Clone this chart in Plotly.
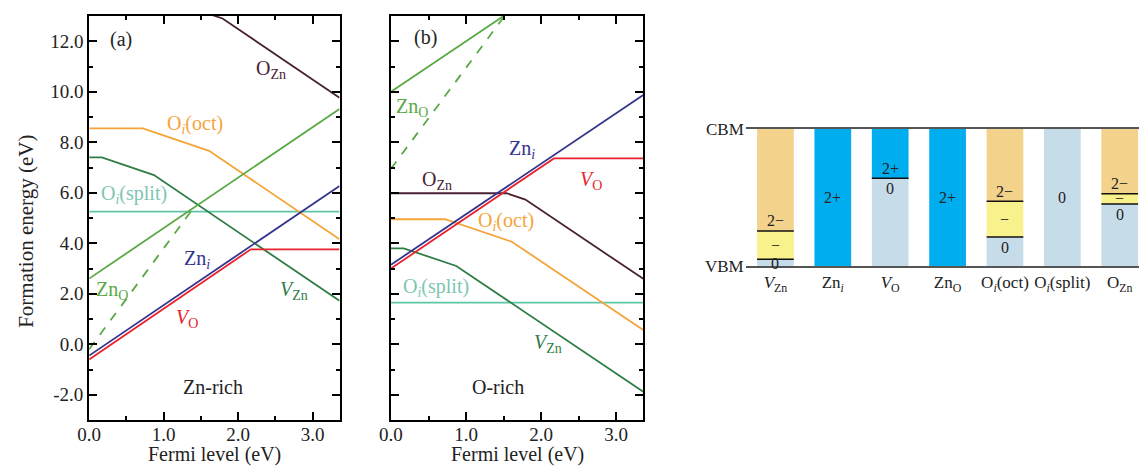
import plotly.graph_objects as go

FONT = "Liberation Serif"
W, H = 1139, 467

# ---------------- formation-energy data (Fermi level, eV -> energy, eV) ----------------
E_GAP = 3.36

# Zn-rich
vzn_a_x, vzn_a_e = [0, 0.17, 0.87, 3.36], [7.40, 7.40, 6.70, 1.72]
oioct_a_x, oioct_a_e = [0, 0.72, 1.61, 3.36], [8.55, 8.55, 7.66, 4.16]
ozn_a_x, ozn_a_e = [0, 1.54, 1.79, 3.36], [13.15, 13.15, 12.90, 9.76]
oisplit_a_x, oisplit_a_e = [0, 3.36], [5.25, 5.25]
zno_a_x, zno_a_e = [0, 3.36], [2.60, 9.32]
zno4_a_x, zno4_a_e = [0, 1.40], [-0.20, 5.40]
zni_a_x, zni_a_e = [0, 3.36], [-0.45, 6.27]
vo_a_x, vo_a_e = [0, 2.17, 3.36], [-0.60, 3.76, 3.76]

# O-rich
vzn_b_x, vzn_b_e = [0, 0.17, 0.87, 3.36], [3.80, 3.80, 3.10, -1.88]
oioct_b_x, oioct_b_e = [0, 0.72, 1.61, 3.36], [4.95, 4.95, 4.06, 0.56]
ozn_b_x, ozn_b_e = [0, 1.54, 1.79, 3.36], [5.98, 5.98, 5.73, 2.59]
oisplit_b_x, oisplit_b_e = [0, 3.36], [1.65, 1.65]
zno_b_x, zno_b_e = [0, 3.36], [10.00, 16.72]
zno4_b_x, zno4_b_e = [0, 1.53], [6.95, 13.07]
zni_b_x, zni_b_e = [0, 3.36], [3.15, 9.87]
vo_b_x, vo_b_e = [0, 2.17, 3.36], [3.00, 7.36, 7.36]

y_tickvals = [-2, 0, 2, 4, 6, 8, 10, 12]
y_ticktext = ["-2.0", "0.0", "2.0", "4.0", "6.0", "8.0", "10.0", "12.0"]
x_tickvals = [0, 1, 2, 3]
x_ticktext = ["0.0", "1.0", "2.0", "3.0"]

# ---------------- transition-level diagram ----------------
GAP = 3.4
defect_keys = ["vzn", "zni", "vo", "zno", "oioct", "oisplit", "ozn"]
defect_labels = ["<i>V</i><sub>Zn</sub>", "Zn<sub><i>i</i></sub>", "<i>V</i><sub>O</sub>",
                 "Zn<sub>O</sub>", "O<sub><i>i</i></sub>(oct)", "O<sub><i>i</i></sub>(split)",
                 "O<sub>Zn</sub>"]
vzn_levels, vzn_charges = [0.17, 0.87], ["0", "\u2212", "2\u2212"]
zni_levels, zni_charges = [], ["2+"]
vo_levels, vo_charges = [2.18], ["0", "2+"]
zno_levels, zno_charges = [], ["2+"]
oioct_levels, oioct_charges = [0.72, 1.61], ["0", "\u2212", "2\u2212"]
oisplit_levels, oisplit_charges = [], ["0"]
ozn_levels, ozn_charges = [1.54, 1.79], ["0", "\u2212", "2\u2212"]

charge_colors = {"2\u2212": "#f3d28c", "\u2212": "#f8f18c", "0": "#c6dde9", "2+": "#00aeef"}

COL = {
    "ozn": "#4a2236", "oioct": "#f5a43a", "oisplit": "#5ec6a6", "zno": "#5aa845",
    "vzn": "#2f7d45", "zni": "#34348e", "vo": "#e8232d",
}

fig = go.Figure()


def add_line(x, e, color, axis, dash="solid"):
    fig.add_trace(go.Scatter(
        x=x, y=e, mode="lines", line=dict(color=color, width=1.8, dash=dash),
        xaxis="x" if axis == 1 else "x2", yaxis="y" if axis == 1 else "y2",
        showlegend=False, hoverinfo="skip"))


for axis, sets in [
    (1, [(oisplit_a_x, oisplit_a_e, "oisplit", "solid"), (ozn_a_x, ozn_a_e, "ozn", "solid"),
         (oioct_a_x, oioct_a_e, "oioct", "solid"), (vzn_a_x, vzn_a_e, "vzn", "solid"),
         (zno_a_x, zno_a_e, "zno", "solid"), (zno4_a_x, zno4_a_e, "zno", "dash"),
         (vo_a_x, vo_a_e, "vo", "solid"), (zni_a_x, zni_a_e, "zni", "solid")]),
    (2, [(oisplit_b_x, oisplit_b_e, "oisplit", "solid"), (ozn_b_x, ozn_b_e, "ozn", "solid"),
         (oioct_b_x, oioct_b_e, "oioct", "solid"), (vzn_b_x, vzn_b_e, "vzn", "solid"),
         (zno_b_x, zno_b_e, "zno", "solid"), (zno4_b_x, zno4_b_e, "zno", "dash"),
         (vo_b_x, vo_b_e, "vo", "solid"), (zni_b_x, zni_b_e, "zni", "solid")]),
]:
    for x, e, key, dash in sets:
        add_line(x, e, COL[key], axis, dash)

# ---- level diagram bars ----
levels_all = [vzn_levels, zni_levels, vo_levels, zno_levels, oioct_levels, oisplit_levels, ozn_levels]
charges_all = [vzn_charges, zni_charges, vo_charges, zno_charges, oioct_charges, oisplit_charges, ozn_charges]
BAR_W = 0.64
shapes = []
annotations = []
for i, (key, levels, charges) in enumerate(zip(defect_keys, levels_all, charges_all)):
    bounds = [0.0] + levels + [GAP]
    n = len(charges)
    for j, q in enumerate(charges):
        lo, hi = bounds[j], bounds[j + 1]
        fig.add_trace(go.Bar(
            x=[key], y=[hi - lo], base=[lo], width=BAR_W,
            marker=dict(color=charge_colors[q], line=dict(width=0)),
            xaxis="x3", yaxis="y3", showlegend=False, hoverinfo="skip"))
        # label placement inside the segment
        if n == 1:
            ypos = (lo + hi) / 2
        elif j == n - 1:
            ypos = lo + 0.25
        elif j == 0:
            ypos = max(hi - 0.25, 0.07)
        else:
            ypos = (lo + hi) / 2
        annotations.append(dict(
            x=i, y=ypos, xref="x3", yref="y3", text=q, showarrow=False,
            font=dict(family=FONT, size=16, color="#222"), xanchor="center", yanchor="middle"))
    for lv in levels:
        shapes.append(dict(type="line", xref="x3", yref="y3", x0=i - BAR_W / 2, x1=i + BAR_W / 2,
                           y0=lv, y1=lv, line=dict(color="#111", width=1.5)))

annotations += [
    dict(x=742 / W, y=GAP, xref="paper", yref="y3", text="CBM", showarrow=False,
         xanchor="right", yanchor="middle", font=dict(family=FONT, size=17, color="#222")),
    dict(x=742 / W, y=0, xref="paper", yref="y3", text="VBM", showarrow=False,
         xanchor="right", yanchor="middle", font=dict(family=FONT, size=17, color="#222")),
]


# ---- curve labels ----
def px_a(px, py):
    return (px - 78) / 75.3, 12 - (py - 42) / 25.25


def px_b(px, py):
    return (px - 383) / 75.3, 12 - (py - 42) / 25.25


def lab(axis, px, py, text, color, size=20):
    if axis == 1:
        x, y = px_a(px, py)
        xr, yr = "x", "y"
    else:
        x, y = px_b(px, py)
        xr, yr = "x2", "y2"
    annotations.append(dict(x=x, y=y, xref=xr, yref=yr, text=text, showarrow=False,
                            xanchor="center", yanchor="middle",
                            font=dict(family=FONT, size=size, color=color)))


lab(1, 110, 40, "(a)", "#222")
lab(1, 262, 70, "O<sub>Zn</sub>", COL["ozn"])
lab(1, 185, 125, "O<sub><i>i</i></sub>(oct)", COL["oioct"])
lab(1, 123, 195, "O<sub><i>i</i></sub>(split)", "#7cc6b2")
lab(1, 187, 260, "Zn<sub><i>i</i></sub>", COL["zni"])
lab(1, 101, 291, "Zn<sub>O</sub>", COL["zno"])
lab(1, 177, 319, "<i>V</i><sub>O</sub>", COL["vo"])
lab(1, 285, 291, "<i>V</i><sub>Zn</sub>", COL["vzn"])
lab(1, 203, 388, "Zn-rich", "#222")

lab(2, 418, 38, "(b)", "#222")
lab(2, 404, 108, "Zn<sub>O</sub>", COL["zno"])
lab(2, 514, 150, "Zn<sub><i>i</i></sub>", COL["zni"])
lab(2, 584, 181, "<i>V</i><sub>O</sub>", COL["vo"])
lab(2, 429, 181, "O<sub>Zn</sub>", COL["ozn"])
lab(2, 498, 222, "O<sub><i>i</i></sub>(oct)", COL["oioct"])
lab(2, 428, 288, "O<sub><i>i</i></sub>(split)", "#7cc6b2")
lab(2, 540, 344, "<i>V</i><sub>Zn</sub>", COL["vzn"])
lab(2, 490, 388, "O-rich", "#222")

# axis titles placed as text below / beside the panels
for cx in [(78 + 331) / 2, (383 + 638) / 2]:
    annotations.append(dict(x=cx / W, y=0, xref="paper", yref="paper",
                            text="Fermi level (eV)", showarrow=False, xanchor="center",
                            yanchor="bottom", borderpad=0,
                            font=dict(family=FONT, size=20, color="#222")))
annotations.append(dict(x=14 / W, y=1 - 231 / H, xref="paper", yref="paper", textangle=-90,
                        text="Formation energy (eV)", showarrow=False, xanchor="center",
                        yanchor="middle", font=dict(family=FONT, size=21, color="#222")))

# ---------------- axes ----------------
ydom = [1 - 420 / H, 1 - 16 / H]
tickfont = dict(family=FONT, size=19, color="#222")
common_x = dict(range=[0, E_GAP], showline=True, linecolor="black", linewidth=2, mirror="ticks",
                ticks="inside", ticklen=8, tickwidth=2, tickcolor="black",
                tickvals=x_tickvals, ticktext=x_ticktext, tickfont=tickfont, ticklabelstandoff=-4,
                minor=dict(dtick=0.5, tick0=0, ticks="inside", ticklen=4, tickwidth=1.5, tickcolor="black"),
                showgrid=False, zeroline=False)
common_y = dict(range=[-3, 13], showline=True, linecolor="black", linewidth=2, mirror="ticks",
                ticks="inside", ticklen=8, tickwidth=2, tickcolor="black",
                tickvals=y_tickvals, ticktext=y_ticktext, tickfont=tickfont,
                minor=dict(dtick=1, tick0=0, ticks="inside", ticklen=4, tickwidth=1.5, tickcolor="black"),
                showgrid=False, zeroline=False, domain=ydom)

fig.update_layout(
    width=W, height=H, margin=dict(l=0, r=0, t=0, b=0),
    paper_bgcolor="white", plot_bgcolor="white", barmode="overlay",
    font=dict(family=FONT, color="#222"),
    xaxis=dict(common_x, domain=[78 / W, 331 / W], anchor="y"),
    yaxis=dict(common_y, anchor="x"),
    xaxis2=dict(common_x, domain=[383 / W, 638 / W], anchor="y2"),
    yaxis2=dict(common_y, anchor="x2", showticklabels=False),
    xaxis3=dict(domain=[742 / W, 1.0], anchor="y3", type="category",
                categoryorder="array", categoryarray=defect_keys,
                range=[-0.51, 6.336], tickvals=defect_keys, ticktext=defect_labels,
                showline=True, mirror=True, linecolor="#555", linewidth=1.5, ticks="",
                tickfont=dict(family=FONT, size=17, color="#222"), showgrid=False, zeroline=False),
    yaxis3=dict(domain=[1 - 266 / H, 1 - 129 / H], anchor="x3", range=[0, GAP], visible=False,
                showgrid=False, zeroline=False),
    shapes=shapes, annotations=annotations,
)

fig.write_html("out.html")
